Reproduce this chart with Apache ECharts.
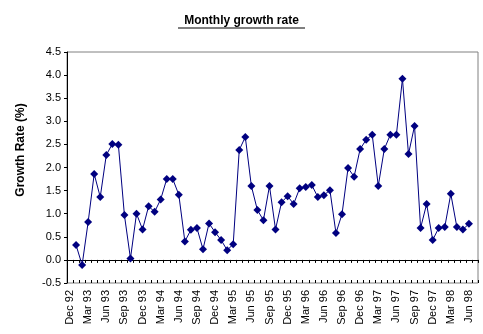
<!DOCTYPE html>
<html>
<head>
<meta charset="utf-8">
<script src="https://cdn.jsdelivr.net/npm/echarts@6/dist/echarts.min.js"></script>
<style>html,body{margin:0;padding:0;background:#fff}#c{width:483px;height:334px}</style>
</head>
<body>
<div id="c"></div>
<script>
var months = [
  "Dec 92",
  "Jan 93","Feb 93","Mar 93","Apr 93","May 93","Jun 93","Jul 93","Aug 93","Sep 93","Oct 93","Nov 93","Dec 93",
  "Jan 94","Feb 94","Mar 94","Apr 94","May 94","Jun 94","Jul 94","Aug 94","Sep 94","Oct 94","Nov 94","Dec 94",
  "Jan 95","Feb 95","Mar 95","Apr 95","May 95","Jun 95","Jul 95","Aug 95","Sep 95","Oct 95","Nov 95","Dec 95",
  "Jan 96","Feb 96","Mar 96","Apr 96","May 96","Jun 96","Jul 96","Aug 96","Sep 96","Oct 96","Nov 96","Dec 96",
  "Jan 97","Feb 97","Mar 97","Apr 97","May 97","Jun 97","Jul 97","Aug 97","Sep 97","Oct 97","Nov 97","Dec 97",
  "Jan 98","Feb 98","Mar 98","Apr 98","May 98","Jun 98","Jul 98"
];
var growthRate = [
  null,
  0.32,-0.11,0.82,1.86,1.36,2.27,2.51,2.49,0.97,0.03,1.00,0.66,
  1.16,1.04,1.31,1.75,1.75,1.41,0.40,0.65,0.69,0.23,0.79,0.60,
  0.43,0.21,0.34,2.38,2.66,1.60,1.08,0.86,1.60,0.66,1.25,1.38,
  1.21,1.55,1.58,1.62,1.36,1.40,1.51,0.58,0.99,1.99,1.80,2.40,
  2.60,2.71,1.60,2.40,2.71,2.71,3.92,2.29,2.90,0.69,1.21,0.43,
  0.69,0.71,1.43,0.71,0.66,0.78,
  null
];
var titleText = "Monthly growth rate";
var yTitle = "Growth Rate (%)";

var chart = echarts.init(document.getElementById('c'), null, {renderer: 'canvas'});
var font = 'Liberation Sans, Arial, sans-serif';
var hiddenLabel = {show: true, interval: 2, rotate: 90, margin: 7, color: 'rgba(0,0,0,0)', fontSize: 11, fontFamily: font};
chart.setOption({
  animation: false,
  backgroundColor: '#fff',
  grid: {left: 67, right: 5, top: 52, bottom: 51, show: true, borderColor: '#808080', borderWidth: 1, backgroundColor: 'transparent'},
  xAxis: [
    {type: 'category', data: months, boundaryGap: true, position: 'bottom',
     axisLine: {show: true, onZero: true, lineStyle: {color: '#000', width: 1}},
     axisTick: {show: true, interval: 0, length: 3, inside: false, lineStyle: {color: '#000', width: 1}},
     axisLabel: hiddenLabel, splitLine: {show: false}},
    {type: 'category', data: months, boundaryGap: true, position: 'bottom',
     axisLine: {show: false, onZero: true},
     axisTick: {show: true, interval: 0, length: 3, inside: true, lineStyle: {color: '#000', width: 1}},
     axisLabel: hiddenLabel, splitLine: {show: false}},
    {type: 'category', data: months, boundaryGap: true, position: 'bottom',
     axisLine: {show: false, onZero: false},
     axisTick: {show: false},
     axisLabel: {show: true, interval: 2, rotate: 90, margin: 7, color: '#000', fontSize: 11, fontFamily: font},
     splitLine: {show: false}}
  ],
  yAxis: {
    type: 'value', min: -0.5, max: 4.5, interval: 0.5,
    axisLine: {show: true, lineStyle: {color: '#000', width: 1}},
    axisTick: {show: true, length: 3, lineStyle: {color: '#000'}},
    axisLabel: {color: '#000', fontSize: 11, fontFamily: font, margin: 6,
      formatter: function (v) { return v.toFixed(1); }},
    splitLine: {show: false}
  },
  graphic: [
    {type: 'text', left: 'center', top: 15,
     style: {text: titleText, font: 'bold 12px ' + font, fill: '#000'}},
    {type: 'line', shape: {x1: 178, y1: 28, x2: 305, y2: 28}, style: {stroke: '#000', lineWidth: 1}},
    {type: 'text', x: 21, y: 150, rotation: Math.PI / 2,
     style: {text: yTitle, font: 'bold 12px ' + font, fill: '#000', align: 'center', verticalAlign: 'middle'}}
  ],
  series: [{
    type: 'line', data: growthRate, xAxisIndex: 0,
    symbol: 'diamond', symbolSize: 8, showSymbol: true, showAllSymbol: true, connectNulls: false,
    lineStyle: {color: '#000080', width: 1},
    itemStyle: {color: '#000080'}
  }]
});
</script>
</body>
</html>
